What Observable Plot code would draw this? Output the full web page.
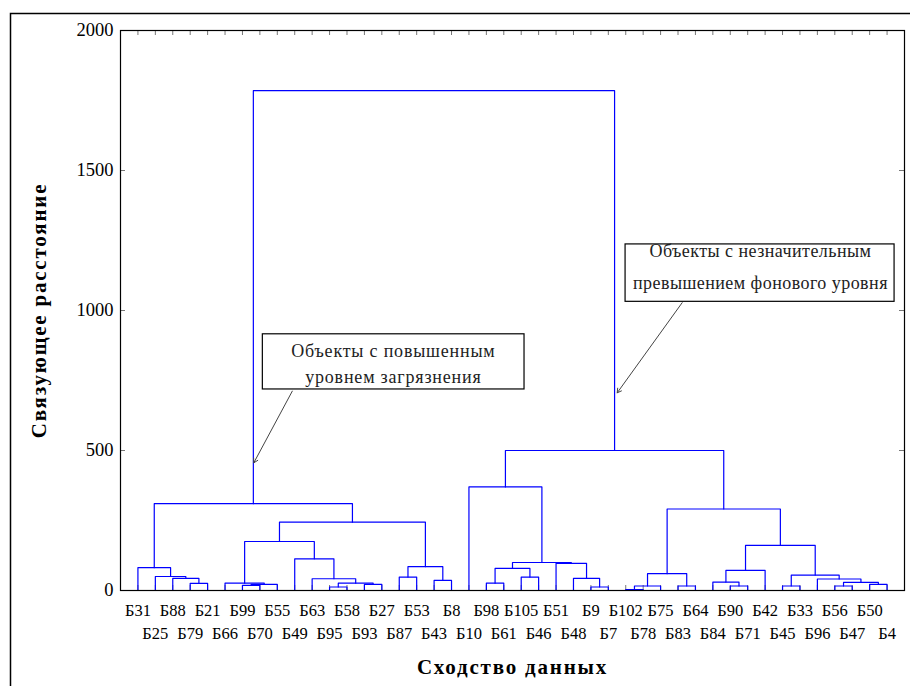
<!DOCTYPE html>
<html><head><meta charset="utf-8">
<script src="https://cdn.jsdelivr.net/npm/d3@7"></script>
<script src="https://cdn.jsdelivr.net/npm/@observablehq/plot@0.6"></script>
<style>
body{margin:0;background:#fff;}
</style></head><body><div id="chart"></div>
<script>
// leaves in display order (positions 1..44)
const leaves = ["Б31","Б25","Б88","Б79","Б21","Б66","Б99","Б70","Б55","Б49",
  "Б63","Б95","Б58","Б93","Б27","Б87","Б53","Б43","Б8","Б10",
  "Б98","Б61","Б105","Б46","Б51","Б48","Б9","Б7","Б102","Б78",
  "Б75","Б83","Б64","Б84","Б90","Б71","Б42","Б45","Б33","Б96",
  "Б56","Б47","Б50","Б4"];
// linkage rows [a, b, height]; 1..44 = leaves, 45+ = cluster formed by row (id-45)
const mergeA = [4,3,2,1,7,49,6,12,14,52,11,10,51,16,18,58,57,48,
  21,23,63,27,26,25,65,20,29,71,32,72,35,34,76,38,41,43,79,40,78,77,74,70,62];
const mergeB = [5,45,46,47,8,9,50,13,15,53,54,55,56,17,19,59,60,61,
  22,24,64,28,66,67,68,69,30,31,33,73,36,75,37,39,42,44,80,81,82,83,84,85,86];
const mergeH = [25.7,43.5,50,81.5,18,22,26,12.5,22,26,42,113,175,48,36,85,244,310,
  26,48,79,12.5,43.5,97,100,370,3,16,16,60,16,30,72,16,16,22,29,41,55,161,291,500,1785];
const yTicks = [0,500,1000,1500,2000];
const noteLines = ["Объекты с повышенным","уровнем загрязнения",
  "Объекты с незначительным","превышением фонового уровня"];
const noteLineX = [15.66,15.66,36.73,36.73];
const noteLineY = [855,763,1212,1099];
const boxX1 = [8.17,28.99], boxX2 = [23.19,44.43], boxY1 = [718,1031], boxY2 = [915,1236];
const arrowX1 = [9.86,32.24], arrowY1 = [712,1028], arrowX2 = [7.65,28.51], arrowY2 = [456,706];
const xTitle = "Сходство данных";
const yTitle = "Связующее расстояние";

const N = leaves.length;
const xpos = {}, hpos = {};
leaves.forEach((_, i) => { xpos[i+1] = i+1; hpos[i+1] = 0; });
const segs = [];
mergeA.forEach((a, k) => {
  const b = mergeB[k], h = mergeH[k], id = N + 1 + k;
  segs.push({id, x: xpos[a], y: hpos[a]}, {id, x: xpos[a], y: h},
            {id, x: xpos[b], y: h}, {id, x: xpos[b], y: hpos[b]});
  xpos[id] = (xpos[a] + xpos[b]) / 2; hpos[id] = h;
});
const idx = leaves.map((_, i) => i + 1);
const boxes = boxX1.map((_, i) => ({x1: boxX1[i], x2: boxX2[i], y1: boxY1[i], y2: boxY2[i]}));
const arrows = arrowX1.map((_, i) => ({x1: arrowX1[i], y1: arrowY1[i], x2: arrowX2[i], y2: arrowY2[i]}));
const lines = noteLines.map((t, i) => ({t, x: noteLineX[i], y: noteLineY[i]}));

const chart = Plot.plot({
  width: 910, height: 686,
  marginLeft: 120, marginRight: 6, marginTop: 30, marginBottom: 96,
  x: {domain: [0, N + 1], axis: null},
  y: {domain: [0, 2000], axis: null},
  style: {fontFamily: "Liberation Serif", background: "white", color: "black"},
  marks: [
    Plot.frame({insetLeft: -110, insetTop: -17, insetRight: -20, insetBottom: -120, stroke: "black", strokeWidth: 1.5}),
    Plot.ruleX(idx, {x: d => d, y1: 2000, y2: 2000, insetBottom: -5, stroke: "#777"}),
    Plot.ruleX(idx, {x: d => d, y1: 0, y2: 0, insetTop: -5, stroke: "#777"}),
    Plot.ruleY(yTicks, {y: d => d, x1: 0, x2: 0, insetRight: -5, stroke: "#777"}),
    Plot.ruleY(yTicks, {y: d => d, x1: N + 1, x2: N + 1, insetLeft: -5, stroke: "#777"}),
    Plot.line(segs, {x: "x", y: "y", z: "id", stroke: "#0000ff", strokeWidth: 1.2}),
    Plot.frame({stroke: "black", strokeWidth: 1.2}),
    Plot.axisY({ticks: yTicks, tickSize: 0, tickPadding: 7, fontSize: 18.5, label: null, tickFormat: d => String(d)}),
    Plot.axisX({ticks: idx.filter(i => i % 2 === 1), tickSize: 0, tickPadding: 14, fontSize: 16.5, label: null, tickFormat: d => leaves[d-1]}),
    Plot.axisX({ticks: idx.filter(i => i % 2 === 0), tickSize: 0, tickPadding: 37, fontSize: 16.5, label: null, tickFormat: d => leaves[d-1]}),
    Plot.text([xTitle], {text: d => d, frameAnchor: "bottom", dy: 77, fontSize: 21, fontWeight: "bold", lineAnchor: "middle", textAnchor: "middle"}),
    Plot.text([yTitle], {text: d => d, frameAnchor: "left", dx: -81, rotate: -90, fontSize: 21, fontWeight: "bold", lineAnchor: "middle", textAnchor: "middle"}),
    Plot.rect(boxes, {x1: "x1", x2: "x2", y1: "y1", y2: "y2", fill: "white", stroke: "black", strokeWidth: 1.2}),
    Plot.text(lines, {x: "x", y: "y", text: "t", fontSize: 18, fill: "#222", lineAnchor: "middle"}),
    Plot.arrow(arrows, {x1: "x1", y1: "y1", x2: "x2", y2: "y2", stroke: "#444", strokeWidth: 1, headLength: 7})
  ]
});
document.getElementById("chart").appendChild(chart);
const sel = d3.select(chart).selectAll("text");
sel.filter(function() { return noteLines.slice(0, 2).includes(this.textContent); }).style("letter-spacing", "0.8px");
sel.filter(function() { return noteLines.slice(2).includes(this.textContent); }).style("letter-spacing", "0.45px");
sel.filter(function() { return this.textContent === xTitle || this.textContent === yTitle; }).style("letter-spacing", "1.8px");
</script></body></html>
